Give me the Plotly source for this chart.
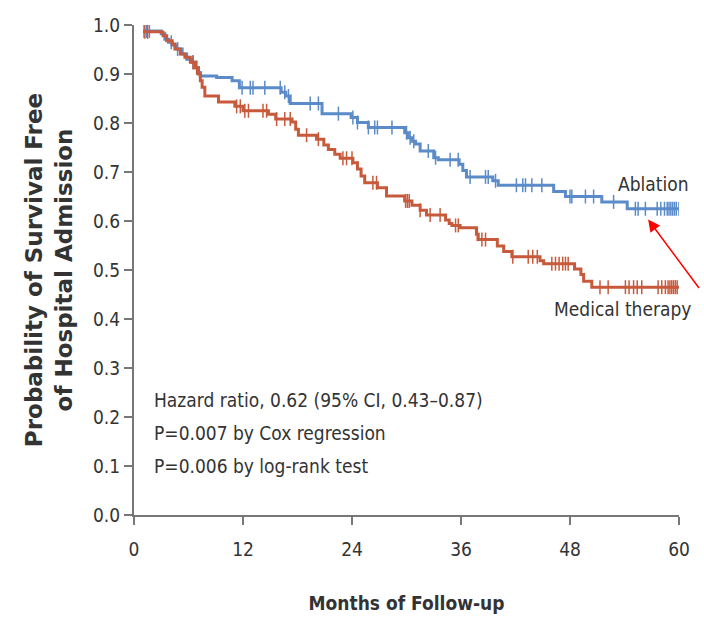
import numpy as np
import plotly.graph_objects as go

# Kaplan-Meier step data: months at which each curve steps, and the survival level after the step
abl_months = [1.0, 3.0, 3.4, 3.8, 4.2, 4.7, 5.3, 5.8, 6.4, 6.7, 7.1, 7.3, 9.1, 10.8, 11.6,
              16.2, 16.7, 17.2, 20.7, 23.9, 24.6, 25.8, 29.8, 30.2, 30.6, 31.0, 31.5,
              33.0, 33.5, 35.8, 36.2, 36.6, 39.5, 40.1, 46.2, 47.5, 51.5, 54.3, 60.0]
abl_surv = [0.988, 0.982, 0.971, 0.965, 0.959, 0.951, 0.941, 0.930, 0.924, 0.913, 0.903, 0.896,
            0.893, 0.886, 0.872, 0.863, 0.855, 0.840, 0.819, 0.811, 0.801, 0.791, 0.780, 0.770,
            0.763, 0.757, 0.743, 0.729, 0.725, 0.716, 0.703, 0.690, 0.682, 0.673, 0.660, 0.650,
            0.639, 0.625, 0.625]

med_months = [1.0, 3.0, 3.2, 3.6, 4.2, 4.5, 5.1, 5.6, 6.2, 6.7, 7.1, 7.3, 7.5, 7.8, 9.3, 11.1,
              12.0, 14.8, 15.6, 17.4, 17.8, 18.1, 20.1, 20.9, 21.4, 22.1, 22.7, 24.1, 24.6,
              25.0, 25.4, 26.8, 27.8, 29.8, 30.6, 31.5, 32.2, 34.3, 34.7, 35.0, 35.9, 37.7,
              37.9, 40.0, 40.7, 41.6, 44.7, 45.1, 48.5, 49.2, 49.5, 50.4, 60.0]
med_surv = [0.986, 0.985, 0.978, 0.968, 0.961, 0.951, 0.941, 0.934, 0.924, 0.913, 0.900, 0.886,
            0.873, 0.855, 0.843, 0.834, 0.825, 0.818, 0.808, 0.802, 0.787, 0.775, 0.767, 0.755,
            0.746, 0.736, 0.728, 0.719, 0.706, 0.692, 0.678, 0.668, 0.651, 0.641, 0.632, 0.622,
            0.612, 0.602, 0.595, 0.591, 0.586, 0.573, 0.562, 0.549, 0.538, 0.527, 0.519, 0.513,
            0.502, 0.491, 0.477, 0.465, 0.465]

# Censored observations (months)
abl_censor = [1.1, 1.4, 1.7, 4.1, 4.8, 6.5, 6.9, 11.9, 12.8, 13.1, 14.4, 16.1, 16.6, 17.0,
              19.4, 20.3, 22.5, 24.1, 24.6, 25.8, 26.5, 26.8, 28.4, 30.0, 30.4, 30.8,
              32.4, 33.2, 34.8, 35.7, 37.0, 38.7, 39.0, 39.8, 42.1, 42.8, 43.1, 43.8, 44.9,
              48.0, 48.2, 49.7, 50.6, 52.8, 55.2, 55.5, 56.3, 57.6, 58.0, 58.4, 58.7, 58.9,
              59.1, 59.3, 59.5, 59.7, 60.0]
med_censor = [1.2, 1.5, 6.5, 6.9, 11.3, 11.7, 12.2, 12.6, 14.2, 14.6, 15.7, 16.6, 17.2, 19.0,
              20.3, 23.0, 23.4, 24.0, 26.3, 26.7, 29.9, 30.1, 30.3, 31.5, 32.6, 33.7, 35.4,
              35.7, 37.8, 38.3, 38.7, 41.7, 43.4, 43.9, 44.4, 46.0, 46.4, 46.8, 47.2, 47.5,
              47.8, 51.3, 52.2, 54.1, 54.5, 55.0, 55.4, 55.9, 57.7, 58.1, 58.5, 58.8, 59.0,
              59.2, 59.4, 59.6, 59.8]

x_ticks = [0, 12, 24, 36, 48, 60]
y_ticks = [0.0, 0.1, 0.2, 0.3, 0.4, 0.5, 0.6, 0.7, 0.8, 0.9, 1.0]
stats_lines = ["Hazard ratio, 0.62 (95% CI, 0.43–0.87)",
               "P=0.007 by Cox regression",
               "P=0.006 by log-rank test"]

BLUE = "#5b8bc8"
RED = "#c85a3c"
TXT = "#333333"
AXIS = "#777777"
FONT = "Liberation Sans Narrow, DejaVu Sans Condensed, Roboto, sans-serif"


def level_at(months, surv, t):
    idx = np.searchsorted(np.asarray(months), np.asarray(t), side="right") - 1
    idx = np.clip(idx, 0, len(surv) - 1)
    return np.asarray(surv)[idx]


fig = go.Figure()
for months, surv, censor, color, name in [
    (abl_months, abl_surv, abl_censor, BLUE, "Ablation"),
    (med_months, med_surv, med_censor, RED, "Medical therapy"),
]:
    fig.add_trace(go.Scatter(x=months, y=surv, mode="lines", line=dict(color=color, width=3, shape="hv"),
                             name=name, hoverinfo="skip"))
    fig.add_trace(go.Scatter(x=censor, y=level_at(months, surv, censor), mode="markers",
                             marker=dict(symbol="line-ns-open", size=10, color=color,
                                         line=dict(color=color, width=1.5)),
                             name=name + " censored", hoverinfo="skip"))

fig.update_xaxes(range=[0, 60], tickvals=x_ticks, ticks="outside", ticklen=8, tickwidth=1.5,
                 tickcolor=AXIS, showline=True, linecolor=AXIS, linewidth=2, showgrid=False,
                 zeroline=False, tickfont=dict(family=FONT, size=19, color=TXT), ticklabelstandoff=8,
                 automargin=False,
                 title=dict(text="<b>Months of Follow-up</b>", font=dict(family=FONT, size=19, color=TXT),
                            standoff=38))
fig.update_yaxes(range=[0, 1], tickvals=y_ticks, tickformat=".1f", ticks="outside", ticklen=8,
                 tickwidth=1.5, tickcolor=AXIS, showline=True, linecolor=AXIS, linewidth=2,
                 showgrid=False, zeroline=False, tickfont=dict(family=FONT, size=19, color=TXT),
                 ticklabelstandoff=0, automargin=False,
                 title=dict(text="<b>Probability of Survival Free<br>of Hospital Admission</b>",
                            font=dict(family="DejaVu Sans, Verdana, sans-serif", size=23, color=TXT),
                            standoff=14))

for i, line in enumerate(stats_lines):
    fig.add_annotation(x=2, y=0.235 - i * 0.068, xref="x", yref="y", text=line, showarrow=False,
                       xanchor="left", yanchor="middle", font=dict(family=FONT, size=19, color=TXT))

fig.add_annotation(x=60, y=0.675, xref="x", yref="y", xshift=12, text="Ablation", showarrow=False,
                   xanchor="right", yanchor="middle", font=dict(family=FONT, size=19, color=TXT))
fig.add_annotation(x=60, y=0.42, xref="x", yref="y", xshift=14, text="Medical therapy", showarrow=False,
                   xanchor="right", yanchor="middle", font=dict(family=FONT, size=19, color=TXT))
fig.add_annotation(x=56.6, y=0.603, xref="x", yref="y", ax=52, ay=70, text="", showarrow=True,
                   arrowcolor="#ff0000", arrowwidth=1.5, arrowhead=2, arrowsize=1.6)

fig.update_layout(width=704, height=620, margin=dict(l=134, r=25, t=25, b=105),
                  plot_bgcolor="white", paper_bgcolor="white", showlegend=False)

fig.write_html("out.html")
